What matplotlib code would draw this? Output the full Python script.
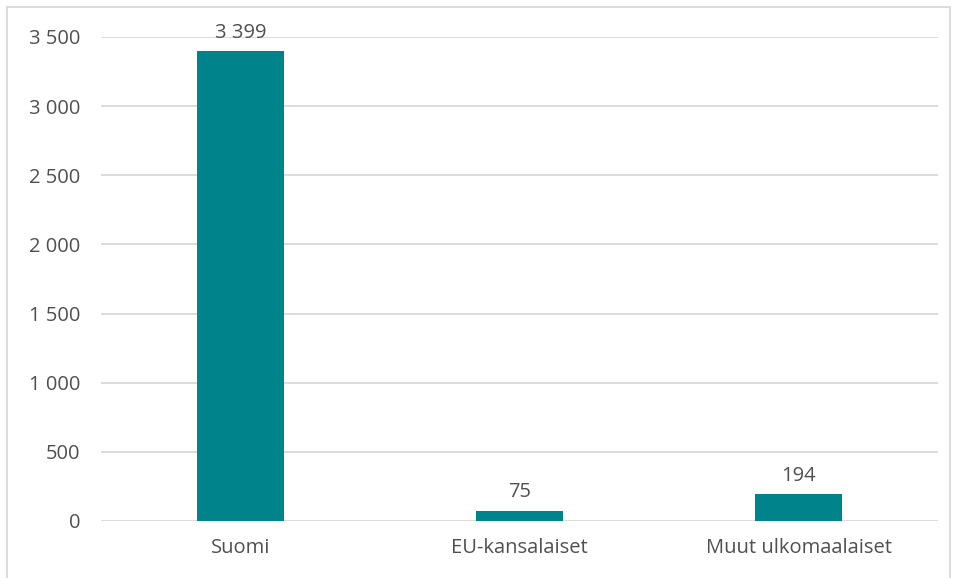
import matplotlib.pyplot as plt
from matplotlib.lines import Line2D
from matplotlib.ticker import FuncFormatter

plt.rcParams['font.family'] = ['Open Sans', 'DejaVu Sans']

categories = ['Suomi', 'EU-kansalaiset', 'Muut ulkomaalaiset']
values = [3399, 75, 194]
yticks = [0, 500, 1000, 1500, 2000, 2500, 3000, 3500]

bar_color = '#00838A'
text_color = '#505050'
grid_color = '#D9D9D9'

fig = plt.figure(figsize=(9.57, 5.78), dpi=100)
ax = fig.add_axes([101/957, 1-521/578, (938-101)/957, (521-37)/578])

x = list(range(len(categories)))
ax.bar(x, values, width=0.31, color=bar_color, zorder=3)
ax.set_xlim(-0.5, 2.5)
ax.set_ylim(0, 3500)
ax.set_yticks(yticks)

def fmt(v, pos=None):
    return '{:,}'.format(int(v)).replace(',', ' ')

ax.yaxis.set_major_formatter(FuncFormatter(fmt))
ax.set_xticks(x)
ax.set_xticklabels(categories)
ax.tick_params(axis='both', length=0, labelsize=14.5, colors=text_color)
ax.tick_params(axis='y', pad=15)
ax.tick_params(axis='x', pad=12)
ax.grid(axis='y', color=grid_color, linewidth=1.3, zorder=0)
for s in ax.spines.values():
    s.set_visible(False)

for a, b in zip(x, values):
    ax.annotate(fmt(b), (a, b), xytext=(0, 6), textcoords='offset points',
                ha='center', va='bottom', fontsize=14.5, color=text_color)

# chart border
x0, x1 = 7/957, 950/957
y1 = 1-7/578
for xs, ys in [([x0, x0], [0, y1]), ([x0, x1], [y1, y1]), ([x1, x1], [y1, 0])]:
    fig.add_artist(Line2D(xs, ys, color=grid_color, linewidth=1.3, transform=fig.transFigure))

fig.savefig('out.png', dpi=100)
